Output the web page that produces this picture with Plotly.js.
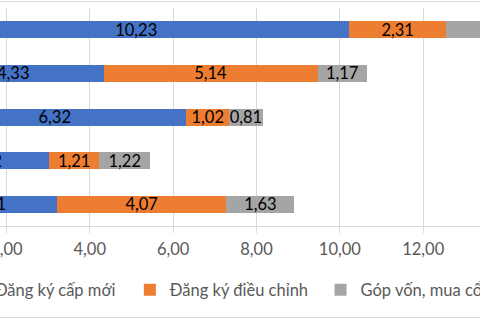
<!DOCTYPE html>
<html>
<head>
<meta charset="utf-8">
<script src="https://cdn.plot.ly/plotly-3.0.1.min.js"></script>
<style>
  html, body { margin: 0; padding: 0; width: 480px; height: 320px; overflow: hidden; background: #fff; }
  #chart { position: absolute; left: -200px; top: 1px; width: 810px; height: 315px; border: 1px solid #d9d9d9; }
</style>
</head>
<body>
<div id="chart"></div>
<script>
// categories bottom -> top (labels sit off the visible crop)
var categories = ['2019', '2020', '2021', '2022', '2023'];
var capMoi = [3.21, 3.02, 6.32, 4.33, 10.23];     // Đăng ký cấp mới
var dieuChinh = [4.07, 1.21, 1.02, 5.14, 2.31];   // Đăng ký điều chỉnh
var gopVon = [1.63, 1.22, 0.81, 1.17, 2.62];      // Góp vốn, mua cổ phần
var xTicks = [0, 2, 4, 6, 8, 10, 12, 14, 16];

var font = 'Lato, "Liberation Sans", sans-serif';

function barTrace(vals, name, color, legendId) {
    return {
        type: 'bar',
        orientation: 'h',
        y: categories,
        x: vals,
        name: name,
        legend: legendId,
        marker: { color: color },
        texttemplate: '%{x:.2f}',
        textposition: 'inside',
        insidetextanchor: 'middle',
        textangle: 0,
        constraintext: 'none',
        insidetextfont: { family: font, size: 16.5, color: '#000' },
        hoverinfo: 'none'
    };
}

var traces = [
    barTrace(capMoi, 'Đăng ký cấp mới', '#4472c4', 'legend'),
    barTrace(dieuChinh, 'Đăng ký điều chỉnh', '#ed7d31', 'legend2'),
    barTrace(gopVon, 'Góp vốn, mua cổ phần', '#a5a5a5', 'legend3')
];

function legendAt(x) {
    return {
        xref: 'container', yref: 'container',
        x: x, xanchor: 'left', y: 0.086, yanchor: 'middle',
        orientation: 'h',
        bgcolor: 'rgba(0,0,0,0)',
        font: { family: font, size: 16.5, color: '#595959' }
    };
}

var layout = {
    width: 810,
    height: 315,
    barmode: 'stack',
    bargap: 0.61,
    separators: ',.',
    margin: { l: 121.5, r: 20.5, t: 6, b: 91 },
    paper_bgcolor: '#fff',
    plot_bgcolor: '#fff',
    font: { family: font, size: 16.5, color: '#595959' },
    xaxis: {
        range: [0, 16],
        tickvals: xTicks,
        tickformat: '.2f',
        showgrid: true,
        gridcolor: '#d9d9d9',
        showline: true,
        linecolor: '#d9d9d9',
        ticks: 'outside',
        ticklen: 6,
        tickcolor: '#d9d9d9',
        ticklabelstandoff: 2,
        zeroline: false,
        fixedrange: true
    },
    yaxis: {
        showticklabels: false,
        showgrid: false,
        zeroline: false,
        fixedrange: true
    },
    showlegend: true,
    legend: legendAt(0.19),
    legend2: legendAt(0.406),
    legend3: legendAt(0.6414)
};

Plotly.newPlot('chart', traces, layout, { displayModeBar: false, staticPlot: true });
</script>
</body>
</html>
